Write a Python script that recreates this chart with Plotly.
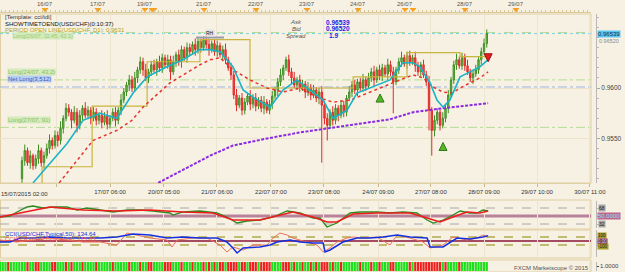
import plotly.graph_objects as go

# ---------------- data (prices in pips: 9600 -> 0.9600) ----------------
first_open = 9510
close_pips = [
    9528, 9538, 9526, 9533, 9523, 9530, 9538, 9526, 9533, 9540,
    9548, 9543, 9553, 9548, 9560, 9570, 9580, 9576, 9568, 9576,
    9563, 9573, 9580, 9573, 9578, 9570, 9576, 9568, 9573, 9566,
    9572, 9564, 9570, 9576, 9568, 9578, 9588, 9596, 9603, 9608,
    9600, 9610, 9618, 9626, 9618, 9610, 9616, 9623, 9618, 9626,
    9620, 9630, 9623, 9628, 9616, 9626, 9633, 9626, 9638, 9630,
    9640, 9636, 9643, 9638, 9646, 9640, 9648, 9643, 9638, 9644,
    9636, 9642, 9633, 9638, 9628, 9620, 9613, 9593, 9583, 9590,
    9578, 9586, 9592, 9584, 9590, 9582, 9588, 9580, 9586, 9578,
    9584, 9592, 9598, 9606, 9613, 9620, 9628, 9616, 9610, 9603,
    9608, 9600, 9604, 9596, 9600, 9593, 9598, 9590, 9596, 9583,
    9570, 9563, 9576, 9568, 9580, 9573, 9583, 9576, 9590, 9596,
    9603, 9598, 9606, 9600, 9608, 9602, 9610, 9616, 9608, 9618,
    9612, 9620, 9614, 9623, 9616, 9606, 9618, 9626, 9630, 9624,
    9632, 9626, 9630, 9622, 9616, 9623, 9613, 9606, 9578, 9558,
    9568, 9576, 9563, 9570, 9580, 9593, 9608, 9623, 9628, 9622,
    9630, 9622, 9616, 9610, 9614, 9618, 9628, 9636, 9644, 9654]
up_wick = [
    4, 6, 3, 5, 2, 4, 6, 3, 4, 5,
    6, 3, 5, 4, 7, 3, 5, 4, 3, 6,
    4, 5, 3, 6, 4, 3, 5, 4, 3, 5,
    4, 6, 3, 4, 5, 3, 6, 4, 3, 5,
    4, 6, 3, 5, 4, 6, 3, 4, 5, 3,
    6, 4, 3, 5, 4, 6, 3, 5, 4, 3,
    5, 4, 3, 6, 4, 3, 3, 4, 6, 3,
    4, 5, 3, 4, 6, 3, 5, 4, 6, 3,
    5, 4, 3, 6, 4, 5, 3, 4, 6, 3,
    4, 5, 3, 4, 6, 3, 3, 5, 4, 6,
    3, 5, 4, 3, 6, 4, 5, 3, 4, 6,
    4, 5, 3, 6, 4, 3, 5, 4, 3, 6,
    4, 5, 3, 4, 6, 3, 5, 4, 6, 3,
    5, 4, 3, 6, 4, 5, 3, 4, 6, 3,
    4, 5, 3, 6, 4, 3, 5, 4, 6, 3,
    5, 4, 3, 6, 4, 5, 3, 4, 6, 3,
    5, 4, 6, 3, 4, 5, 3, 4, 5, 4]
down_wick = [
    4, 5, 3, 6, 4, 3, 5, 4, 6, 3,
    5, 4, 3, 6, 4, 5, 3, 4, 8, 3,
    7, 4, 5, 3, 4, 6, 3, 5, 4, 6,
    3, 5, 4, 3, 6, 4, 5, 3, 4, 6,
    4, 3, 5, 4, 6, 3, 5, 4, 3, 6,
    4, 5, 3, 4, 8, 3, 5, 4, 6, 3,
    5, 4, 3, 6, 4, 5, 3, 4, 6, 3,
    4, 5, 3, 6, 4, 3, 5, 4, 6, 3,
    5, 4, 3, 6, 4, 5, 3, 4, 6, 3,
    4, 5, 3, 6, 4, 5, 3, 4, 6, 3,
    5, 4, 3, 6, 4, 5, 3, 4, 6, 57,
    6, 15, 3, 5, 4, 6, 3, 5, 4, 3,
    5, 4, 6, 3, 4, 5, 3, 4, 6, 3,
    4, 5, 3, 6, 4, 31, 3, 4, 5, 3,
    5, 4, 3, 6, 4, 5, 3, 4, 20, 25,
    6, 4, 5, 3, 4, 5, 3, 4, 5, 3,
    4, 5, 3, 4, 6, 3, 4, 5, 3, 4]

fast_ma_bar = [4, 10.2, 16.4, 22.2, 28.4, 34.5, 40.4, 45.5, 52.7, 58.5, 64.7, 68.4, 72, 76.7,
               80.4, 84, 90.2, 94.9, 100, 104.7, 109.5, 113.1, 118.2, 121.8, 127.6, 133.8,
               138.5, 142.2, 144.7, 148.4, 150.9, 153.1, 155.6, 159.3, 162.9, 166.5, 169.5]
fast_ma_pips = [9506, 9525, 9545, 9568, 9575, 9570, 9595, 9611, 9621, 9628, 9638, 9638, 9636, 9621,
                9598, 9591, 9581, 9598, 9608, 9598, 9588, 9570, 9578, 9595, 9601, 9608,
                9625, 9625, 9621, 9605, 9588, 9581, 9588, 9611, 9616, 9621, 9628]
slow_ma_bar = [13.5, 25.8, 34.5, 40, 44, 53.8, 64.7, 68.4, 72, 76.7, 82.9, 89.1, 94.9, 101.1,
               107.3, 113.1, 119.3, 125.5, 131.3, 137.5, 142.2, 145.8, 149.5, 153.1, 156.4,
               159.3, 162.9, 166.5, 169.5]
slow_ma_pips = [9506, 9548, 9558, 9568, 9581, 9605, 9623, 9628, 9630, 9618, 9608, 9600, 9596, 9600,
                9591, 9586, 9588, 9595, 9601, 9608, 9613, 9610, 9601, 9596, 9595,
                9600, 9605, 9610, 9616]
long_ma_bar = [49.5, 68.4, 76.7, 89.1, 101.1, 113.1, 125.5, 133.8, 142.2, 153.1, 169.5]
long_ma_pips = [9506, 9533, 9543, 9550, 9556, 9561, 9566, 9569, 9576, 9580, 9585]

period_open_bar = [7.3, 7.3, 25.5, 25.5, 45.5, 45.5, 64.7, 64.7, 82.9, 82.9, 120.4, 120.4,
                   140, 140, 159.3, 159.3, 169.5]
period_open_pips = [9505, 9522, 9522, 9582, 9582, 9626, 9626, 9648, 9648, 9600, 9600, 9611,
                    9611, 9635, 9635, 9631, 9631]

buy_arrow_bar = [130.2, 153.1]
buy_arrow_pips = [9594, 9546]
sell_arrow_bar = [169.5]
sell_arrow_pips = [9626]

level_long_a = 0.9655
ask_price = 0.96539
bid_price = 0.96520
level_long_b = 0.9608
level_net = 0.9601
level_long_c = 0.9561

tdi_rsi_bar = [-8, -4.4, -1.8, 1.8, 4, 7.6, 11.3, 16.4, 20, 23.6, 28.4, 33.1, 38.2, 42.9, 47.6,
               53.8, 54.9, 58.5, 64.7, 70.9, 74.5, 78.2, 81.8, 86.5, 91.3, 96.4, 101.1, 105.8,
               108.4, 110.9, 114.5, 119.3, 122.9, 129.1, 133.8, 138.5, 143.6, 147.3, 149.5,
               153.1, 156.7, 159.3, 162.9, 165.5, 167.6, 169.5]
tdi_rsi_val = [47.75, 50, 59, 70.25, 72.5, 68, 70.25, 70.25, 63.5, 68, 63.5, 59, 63.5, 63.5, 61.25,
               56.75, 52.25, 59, 61.25, 56.75, 47.75, 34.25, 38.75, 41, 47.75, 61.25, 56.75, 45.5,
               45.5, 25.25, 34.25, 56.75, 59, 59, 56.75, 59, 56.75, 41, 34.25,
               41, 52.25, 61.25, 56.75, 56.75, 63.5, 61.25]
tdi_sig_bar = [-8, -0.7, 10.2, 22.2, 34.5, 46.5, 58.5, 69.5, 76.7, 86.5, 93.8, 98.5, 105.8, 110.9,
               114.5, 120.4, 129.1, 141.1, 147.3, 152, 156.7, 161.8, 166.5, 169.5]
tdi_sig_val = [47.75, 56.75, 70.25, 63.5, 61.25, 63.5, 59, 56.75, 41, 41, 52.25, 59, 47.75, 36.5,
               36.5, 54.5, 56.75, 56.75, 45.5, 36.5, 47.75, 59, 56.75, 61.25]

cci50_bar = [-8, -4.4, -0.7, 4, 10.2, 16.4, 22.2, 28.4, 34.5, 40.4, 46.5, 52.7, 58.5, 64.7, 70.9,
             74.5, 76.7, 78.2, 80.4, 86.5, 90.2, 92.7, 97.5, 101.1, 105.8, 109.5, 110.2, 112,
             116.7, 121.8, 126.5, 131.3, 136.4, 141.1, 147.3, 148.4, 153.1, 155.6, 158.2,
             162.9, 165.5, 167.6, 169.5]
cci50_val = [-25, -25, 75, 75, 100, 75, 75, 75, 100, 175, 150, 75, 100, 75, 75,
             -25, -175, -300, -175, -150, -100, -25, 25, -25, -50, -50, -275, -225,
             -25, 75, 75, 100, 150, 100, 75, -150, -150, -50, 75,
             50, 75, 100, 135]
cci14_bar = [-8, -1.8, 4, 10.2, 16.4, 22.2, 28.4, 34.5, 38.2, 41.8, 46.5, 52.7, 54.5, 56.4, 62.2,
             67.3, 72, 74.5, 76.7, 80.4, 84, 89.1, 91.3, 93.8, 96.4, 98.5, 103.6, 107.3, 109.5,
             112, 114.5, 118.2, 120.4, 124, 129.1, 133.8, 136.4, 141.1, 145.8, 148.4, 153.1,
             156.7, 161.8, 165.5, 167.6, 169.5]
cci14_val = [25, -25, 25, 75, 25, -25, -25, -100, 200, 150, 75, 25, -150, 25, 75,
             75, -100, -275, -150, -225, -100, -100, 75, 200, 150, 75, -25, -100, -275,
             -175, -25, 75, 100, 75, 100, -100, 150, 75, -25, -175, -100,
             100, 25, 75, 150, 100]

signal_states = ("GGGRGGGG"
                 "GGRGGRRGGG" "GRRGGGRGRG" "GGRGGGGRGG" "GGGRGGGGGR" "GGGRGGRRGG"
                 "GGRRRGGGRG" "GGRGGGRGRG" "RGRRGRRRRG" "RRGRRRGRRR" "RGGGGRRRGR"
                 "GGRGGRGRGR" "RRGRGGRGGG" "GGGRGGGRGG" "RGGGRRGGGG" "GRGRRRRRRR"
                 "RRRGRGGGGR" "GGGGGGGGGG")
signal_first_bar = -8

axis_tick_bars = [12.7, 32, 51.6, 70.9, 90.5, 109.8, 129.5, 148.7, 168, 187.3, 206.5]
axis_tick_text = ["", "17/07 06:00", "20/07 05:00", "21/07 06:00", "22/07 07:00", "23/07 08:00",
                  "24/07 09:00", "27/07 08:00", "28/07 09:00", "29/07 10:00", "30/07 11:00"]
first_bar_label = "15/07/2015 02:00"

day_marker_bars = [8.4, 27.6, 44.7, 66.2, 85.1, 103.6, 122.2, 139.3, 161.1, 179.6]
day_marker_text = ["16/07", "17/07", "19/07", "21/07", "22/07", "23/07", "24/07", "26/07",
                   "28/07", "29/07"]
extra_marker_bars = [47.3, 48.0, 142.2]

# ---------------- layout helpers ----------------
W, H = 625, 272
PW = 596          # plot-area width (right margin 29)
XR = [-8, 206.9]  # visible bar range
FONT = "Liberation Sans, Arial, sans-serif"
BG = "#f6f1e3"
TAN = "#e0cfa2"


def px(x):
    return x / PW


def py(y):
    return 1 - y / H


def p(v):
    return v / 10000.0


bars = list(range(len(close_pips)))
opens = [first_open] + close_pips[:-1]
highs = [max(o, c) + u for o, c, u in zip(opens, close_pips, up_wick)]
lows = [min(o, c) - d for o, c, d in zip(opens, close_pips, down_wick)]

fig = go.Figure()

fig.add_trace(go.Candlestick(
    x=bars, open=[p(v) for v in opens], high=[p(v) for v in highs],
    low=[p(v) for v in lows], close=[p(v) for v in close_pips],
    increasing=dict(line=dict(color="#3f8f25", width=1), fillcolor="#78c450"),
    decreasing=dict(line=dict(color="#e02a2a", width=1), fillcolor="#f24b4b"),
    whiskerwidth=0, xaxis="x", yaxis="y", showlegend=False, hoverinfo="skip"))

fig.add_trace(go.Scatter(x=period_open_bar, y=[p(v) for v in period_open_pips], mode="lines",
                         line=dict(color="#c9b53e", width=1.2), xaxis="x", yaxis="y", hoverinfo="skip"))
fig.add_trace(go.Scatter(x=long_ma_bar, y=[p(v) for v in long_ma_pips], mode="lines",
                         line=dict(color="#8a2be2", width=2, dash="3px,1.5px"), xaxis="x", yaxis="y",
                         hoverinfo="skip"))
fig.add_trace(go.Scatter(x=slow_ma_bar, y=[p(v) for v in slow_ma_pips], mode="lines",
                         line=dict(color="#e8332a", width=1.5, dash="dot"), xaxis="x", yaxis="y",
                         hoverinfo="skip"))
fig.add_trace(go.Scatter(x=fast_ma_bar, y=[p(v) for v in fast_ma_pips], mode="lines",
                         line=dict(color="#1ab3c6", width=1.6), xaxis="x", yaxis="y", hoverinfo="skip"))
fig.add_trace(go.Scatter(x=buy_arrow_bar, y=[p(v) for v in buy_arrow_pips], mode="markers",
                         marker=dict(symbol="arrow-up", size=8, color="#56b52a",
                                     line=dict(color="#2f7a12", width=1)),
                         xaxis="x", yaxis="y", hoverinfo="skip"))
fig.add_trace(go.Scatter(x=sell_arrow_bar, y=[p(v) for v in sell_arrow_pips], mode="markers",
                         marker=dict(symbol="arrow-down", size=8, color="#e02020",
                                     line=dict(color="#9a1010", width=1)),
                         xaxis="x", yaxis="y", hoverinfo="skip"))

# TDI panel
fig.add_trace(go.Scatter(x=tdi_rsi_bar, y=tdi_rsi_val, mode="lines",
                         line=dict(color="#2a8a1e", width=1.3), xaxis="x", yaxis="y2", hoverinfo="skip"))
fig.add_trace(go.Scatter(x=tdi_sig_bar, y=tdi_sig_val, mode="lines",
                         line=dict(color="#ee1c1c", width=1.6), xaxis="x", yaxis="y2", hoverinfo="skip"))
# CCI panel
fig.add_trace(go.Scatter(x=cci14_bar, y=cci14_val, mode="lines",
                         line=dict(color="#f07058", width=1), xaxis="x", yaxis="y3", hoverinfo="skip"))
fig.add_trace(go.Scatter(x=cci50_bar, y=cci50_val, mode="lines",
                         line=dict(color="#1530e0", width=1.5), xaxis="x", yaxis="y3", hoverinfo="skip"))
# signal strip
sig_x = [signal_first_bar + i for i in range(len(signal_states))]
sig_c = ["#19e019" if s == "G" else "#f02020" for s in signal_states]
fig.add_trace(go.Bar(x=sig_x, y=[1] * len(sig_x), marker=dict(color=sig_c, line=dict(width=0)),
                     xaxis="x", yaxis="y4", hoverinfo="skip"))
# top day markers
fig.add_trace(go.Scatter(x=day_marker_bars + extra_marker_bars,
                         y=[2.5] * (len(day_marker_bars) + len(extra_marker_bars)),
                         mode="markers", marker=dict(symbol="triangle-down", size=6, color="#f5a020"),
                         xaxis="x2", yaxis="y5", cliponaxis=False, hoverinfo="skip"))

shapes = []


def hline(yv, yref, color, width=1, dash="solid", layer="below"):
    shapes.append(dict(type="line", xref="paper", x0=0, x1=px(591), yref=yref, y0=yv, y1=yv,
                       line=dict(color=color, width=width, dash=dash), layer=layer))


def box(y0, y1):
    shapes.append(dict(type="rect", xref="paper", x0=px(0.5), x1=px(591), yref="paper",
                       y0=py(y1), y1=py(y0), line=dict(color=TAN, width=1), layer="below"))


box(14, 183)
box(200, 229)
box(230, 258)
box(260, 272)
hline(level_long_a, "y", "#b5dc95", 1, "dash")
hline(ask_price, "y", "#7fd0e6", 1, "dot")
hline(level_long_b, "y", "#b5dc95", 1, "dashdot")
hline(level_net, "y", "#9fb6e0", 1, "dashdot")
hline(level_long_c, "y", "#b5dc95", 1, "dashdot")
hline(68, "y2", "#a8a8a8", 1, "dash")
hline(32, "y2", "#a8a8a8", 1, "dash")
hline(50, "y2", "#b9829a", 3, "solid")
hline(100, "y3", "#c2bb74", 2, "dash")
hline(-100, "y3", "#c2bb74", 2, "dash")
hline(0, "y3", "#8a1538", 1.5, "solid")
shapes.append(dict(type="line", xref="paper", x0=px(196), x1=px(224), yref="paper",
                   y0=py(37.5), y1=py(37.5), line=dict(color="#9a9aaa", width=2)))

ann = []


def text(x, y, t, color="#333", size=6, xanchor="left", bg=None, bold=False, yref="paper", xref="paper"):
    d = dict(x=x, y=y, xref=xref, yref=yref, text=("<b>%s</b>" % t) if bold else t,
             showarrow=False, xanchor=xanchor, yanchor="middle",
             font=dict(family=FONT, size=size, color=color), borderpad=0)
    if bg:
        d["bgcolor"] = bg
    ann.append(d)


text(px(4), py(16.5), "[Template: cci/tdi]", "#333")
text(px(4), py(23.5), "SHOWTIMETOEND(USD/CHF)(0:10:37)", "#111")
text(px(12), py(36), "Long(26/07, 11:45, 42.1)", "#9cc97a", size=5.5, bg="#d3ebbb")
text(px(4), py(30), "PERIOD OPEN LINE(USD/CHF, D1): 0.9631", "#b3a11e")
text(px(7), py(72), "Long(24/07, 43.2)", "#8dbd68", bg="#d3ebbb")
text(px(7), py(79.5), "Net Long(3,512)", "#3a5cb8", bg="#b9cff0")
text(px(7), py(119.5), "Long(27/07, 91)", "#8dbd68", bg="#d3ebbb")
text(px(205), py(33), "RH", "#222", size=5, bg="#e2e2e2")
text(px(296), py(22), "<i>Ask</i>", "#555", xanchor="center")
text(px(296), py(29), "<i>Bid</i>", "#555", xanchor="center")
text(px(296), py(36), "<i>Spread</i>", "#555", xanchor="center")
text(px(325), py(22), "%.5f" % ask_price, "#1a22e8", size=6.5, bold=True)
text(px(325), py(29), "%.5f" % bid_price, "#1a22e8", size=6.5, bold=True)
text(px(328), py(36), "1.9", "#1a22e8", size=6.5, bold=True)
# right axis boxes
text(px(598), py(40.5), "%.5f" % bid_price, "#8c8c8c", size=5.5)
text(px(597), ask_price, "%.5f" % ask_price, "#10305a", bg="#5cc6ee", yref="y")
text(px(598), 68, "68", "#222", size=5, bg="#a8a8a8", yref="y2")
text(px(597), 50, "50.0000", "#7ee8ff", size=6, bg="#c0648a", yref="y2")
text(px(598), 32, "32", "#222", size=5, bg="#a8a8a8", yref="y2")
text(px(597), py(235.5), "100", "#222", size=4.5, bg="#a59e2e")
text(px(597), py(241), "0.00", "#7ee8ff", size=4.5, bg="#9a1f4f")
text(px(597), py(246.5), "-100", "#222", size=4.5, bg="#a59e2e")
text(px(599), py(266), "1.0000", "#444")
text(px(590), py(267.5), "FXCM Marketscope \u00a9 2015", "#555", xanchor="right")
text(px(4), py(233.5), "CCI(USD/CHF,Typical,50): 134.64", "#2030e0")
text(px(4), py(238.5), "CCI(USD/CHF,Typical,14): 115.85", "#f05040")
text(px(0), py(194), first_bar_label, "#333")
for b, t in zip(day_marker_bars, day_marker_text):
    ann.append(dict(x=b, y=8.2, xref="x2", yref="y5", text=t, showarrow=False,
                    font=dict(family=FONT, size=6, color="#555"), xanchor="center", yanchor="middle"))

xdom = [0, px(591)]
fig.update_layout(
    width=W, height=H, margin=dict(l=0, r=W - PW, t=0, b=0),
    paper_bgcolor=BG, plot_bgcolor=BG, showlegend=False, bargap=0.2,
    shapes=shapes, annotations=ann,
    font=dict(family=FONT, size=6, color="#333"),
    xaxis=dict(domain=xdom, range=XR, anchor="y", tickmode="array", tickvals=axis_tick_bars,
               ticktext=axis_tick_text, ticks="outside", ticklen=3, tickcolor="#c9b98e",
               showline=True, linecolor=TAN, showgrid=True, gridcolor="#ede5cf", zeroline=False,
               tickfont=dict(family=FONT, size=6, color="#333"), rangeslider=dict(visible=False)),
    xaxis2=dict(domain=xdom, range=XR, anchor="y5", ticks="inside", ticklen=2, tick0=0, dtick=1.5,
                tickcolor="#d6c596", showline=True, linecolor="#dccb9c", showticklabels=False,
                showgrid=False, zeroline=False),
    yaxis=dict(domain=[py(183), py(14)], range=[0.95059, 0.96733], anchor="free", position=1,
               side="right", tickmode="array", tickvals=[0.955, 0.96], ticktext=["0.9550", "0.9600"],
               ticks="outside", ticklen=3, tickcolor="#a8a8a8", showline=True, linecolor="#b8b8b8",
               showgrid=True, gridcolor="#ece3ca", zeroline=False,
               tickfont=dict(family=FONT, size=6.5, color="#444"),
               minor=dict(tick0=0.95, dtick=0.001, ticks="outside", ticklen=2, tickcolor="#b8b8b8",
                          showgrid=False)),
    yaxis2=dict(domain=[py(228), py(201)], range=[23, 83.75], anchor="free", position=1, side="right",
                showticklabels=False, showgrid=False, zeroline=False, showline=True,
                linecolor="#b8b8b8", ticks="outside", ticklen=2, tickcolor="#b8b8b8",
                tickvals=[32, 50, 68]),
    yaxis3=dict(domain=[py(257), py(230)], range=[-400, 275], anchor="free", position=1, side="right",
                showticklabels=False, showgrid=False, zeroline=False, showline=True,
                linecolor="#b8b8b8", ticks="outside", ticklen=2, tickcolor="#b8b8b8",
                tickvals=[-100, 0, 100]),
    yaxis4=dict(domain=[py(271), py(262)], range=[0, 1], anchor="free", position=1, side="right",
                showticklabels=False, showgrid=False, zeroline=False, showline=True,
                linecolor="#b8b8b8", ticks="outside", ticklen=2, tickvals=[0.5]),
    yaxis5=dict(domain=[py(12), 1], range=[0, 12], anchor="x2", showticklabels=False,
                showgrid=False, zeroline=False),
)

fig.write_html("out.html")
